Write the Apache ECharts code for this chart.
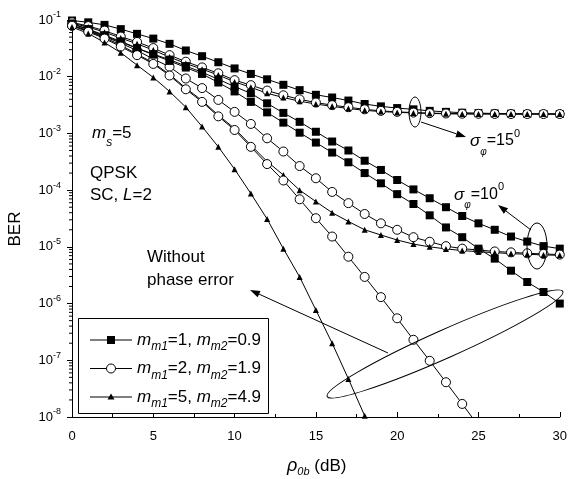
<!DOCTYPE html>
<html><head><meta charset="utf-8">
<script src="https://cdn.jsdelivr.net/npm/echarts@6/dist/echarts.min.js"></script>
<style>html,body{margin:0;padding:0;background:#fff}#c{width:570px;height:479px}</style>
</head><body><div id="c"></div>
<script>
// ---------- data ----------
const snr = [0,1,2,3,4,5,6,7,8,9,10,11,12,13,14,15,16,17,18,19,20,21,22,23,24,25,26,27,28,29,30];
const yTickExps = [-8,-7,-6,-5,-4,-3,-2,-1];
const xTicks = [0,5,10,15,20,25,30];

// sigma_phi = 15 deg
const sq15 = [0.098,0.091,0.082,0.069,0.057,0.047,0.038,0.029,0.023,0.018,0.014,0.0112,0.0090,0.0072,0.0058,0.0048,0.0043,0.0038,0.0033,0.0030,0.0028,0.00266,0.0025,0.0024,0.00232,0.00228,0.00225,0.00223,0.00221,0.0022,0.0022];
const ci15 = [0.091,0.078,0.065,0.051,0.041,0.032,0.024,0.0184,0.0146,0.0115,0.0087,0.0071,0.0057,0.0047,0.0040,0.0035,0.00315,0.0029,0.00266,0.0025,0.0024,0.00233,0.00228,0.00225,0.00223,0.00222,0.00221,0.0022,0.0022,0.0022,0.0022];
const tr15 = [0.088,0.075,0.061,0.048,0.038,0.0295,0.0222,0.0171,0.0136,0.0107,0.0081,0.0065,0.0051,0.0043,0.0037,0.0033,0.0030,0.00275,0.00255,0.00243,0.00235,0.0023,0.00225,0.00222,0.0022,0.0022,0.0022,0.0022,0.0022,0.0022,0.0022];
// sigma_phi = 10 deg
const sq10 = [0.087,0.069,0.054,0.042,0.032,0.025,0.020,0.0154,0.012,0.0090,0.0067,0.0051,0.0034,0.0023,0.0016,0.00107,0.00072,0.00050,0.00033,0.000227,0.000151,0.000103,0.000072,0.000050,0.000035,0.000026,0.000020,0.0000152,0.0000124,0.0000103,0.0000093];
const ci10 = [0.080,0.065,0.051,0.039,0.029,0.0205,0.015,0.0093,0.0063,0.0039,0.0024,0.00147,0.00082,0.00048,0.000266,0.000162,0.000093,0.000059,0.000038,0.000026,0.000020,0.0000148,0.0000123,0.0000103,0.0000093,0.0000088,0.0000083,0.000008,0.0000077,0.0000075,0.0000073];
const tr10 = [0.081,0.064,0.049,0.036,0.025,0.0176,0.011,0.0063,0.0038,0.0021,0.00122,0.00062,0.00032,0.000185,0.0001,0.000063,0.00004,0.000028,0.00002,0.0000162,0.0000132,0.0000112,0.00001,0.0000092,0.0000086,0.0000082,0.0000079,0.0000076,0.0000074,0.0000072,0.0000071];
// without phase error
const sqNo = [0.085,0.068,0.052,0.041,0.0316,0.0245,0.019,0.0145,0.0112,0.0079,0.0055,0.0036,0.00235,0.00155,0.00103,0.00069,0.00046,0.00031,0.00020,0.000132,0.000085,0.000057,0.000036,0.000022,0.0000148,0.0000093,0.0000062,0.0000038,0.0000024,0.0000016,0.0000010];
const ciNo = [0.079,0.062,0.047,0.034,0.024,0.0168,0.0105,0.0060,0.0036,0.0020,0.00115,0.00058,0.000288,0.000148,0.000069,0.000032,0.0000152,0.0000067,0.00000295,0.0000013,5.5e-7,2.3e-7,9.8e-8,4.1e-8,1.7e-8,7e-9];
const trNo = [0.075,0.058,0.040,0.0265,0.016,0.0097,0.0055,0.0029,0.00132,0.00058,0.000234,0.000087,0.000031,0.0000093,0.00000295,7.7e-7,2.0e-7,4.7e-8,1.05e-8];

const FONT = '"Liberation Sans", Arial, Helvetica, sans-serif';
const pairs = arr => arr.map((v,i)=>[snr[i], v]);

function mkSeries(name, vals, kind){
  const base = {
    type:'line', name, data: pairs(vals), animation:false, silent:true,
    lineStyle:{color:'#000', width:1}, emphasis:{disabled:true}, clip:true, showAllSymbol:true
  };
  if(kind==='sq') Object.assign(base,{symbol:'rect', symbolSize:8, itemStyle:{color:'#000'}});
  if(kind==='ci') Object.assign(base,{symbol:'circle', symbolSize:9, itemStyle:{color:'#fff', borderColor:'#000', borderWidth:1}});
  if(kind==='tr') Object.assign(base,{symbol:'triangle', symbolSize:6, itemStyle:{color:'#000'}});
  return base;
}

// minor log ticks on y axis
const minorVals = [];
yTickExps.slice(0,-1).forEach(e=>{ for(let k=2;k<=9;k++) minorVals.push([0, k*Math.pow(10,e)]); });

function arrow(x1,y1,x2,y2){
  const dx=x2-x1, dy=y2-y1, L=Math.hypot(dx,dy), ux=dx/L, uy=dy/L;
  const hl=10, hw=3.5, bx=x2-ux*hl, by=y2-uy*hl;
  return [
    {type:'line', shape:{x1,y1,x2:bx,y2:by}, style:{stroke:'#000', lineWidth:1}, z:100},
    {type:'polygon', shape:{points:[[x2,y2],[bx-uy*hw, by+ux*hw],[bx+uy*hw, by-ux*hw]]}, style:{fill:'#000'}, z:100}
  ];
}
const R = (fs, extra) => Object.assign({fontSize:fs, fontFamily:FONT, fill:'#000', verticalAlign:'middle'}, extra||{});
function txt(x,y,text,rich,extra){
  return Object.assign({type:'text', x, y, z:100, style:{text, rich, fontFamily:FONT, fontSize:17, fill:'#000', verticalAlign:'middle', align:'left'}}, extra||{});
}
const richMain = {
  n: R(17), i: R(17,{fontStyle:'italic'}),
  sub: R(12,{fontStyle:'italic', padding:[14,0,0,0]}),
  sup: R(11,{padding:[0,0,14,0]})
};
const legendNames = ['{i|m}{sub|m1}{n|=1, }{i|m}{sub|m2}{n|=0.9}','{i|m}{sub|m1}{n|=2, }{i|m}{sub|m2}{n|=1.9}','{i|m}{sub|m1}{n|=5, }{i|m}{sub|m2}{n|=4.9}'];
const legendY = [340, 368.5, 397];

const graphic = [
  // legend box
  {type:'rect', shape:{x:78.5, y:318.5, width:190, height:95}, style:{fill:'#fff', stroke:'#000', lineWidth:1}, z:90},
  ...legendY.map(y=>({type:'line', shape:{x1:90,y1:y,x2:132,y2:y}, style:{stroke:'#000', lineWidth:1}, z:95})),
  {type:'rect', shape:{x:107, y:legendY[0]-4, width:8, height:8}, style:{fill:'#000'}, z:96},
  {type:'circle', shape:{cx:111, cy:legendY[1], r:4.5}, style:{fill:'#fff', stroke:'#000', lineWidth:1}, z:96},
  {type:'polygon', shape:{points:[[111,legendY[2]-3.5],[114.5,legendY[2]+2.5],[107.5,legendY[2]+2.5]]}, style:{fill:'#000'}, z:96},
  ...legendNames.map((t,i)=>txt(137, legendY[i], t, richMain)),
  // annotations
  txt(92, 133, '{i|m}{sub|s}{n|=5}', {n:R(17), i:R(17,{fontStyle:'italic'}), sub:R(12,{fontStyle:'italic', padding:[20,0,0,0]})}),
  txt(90, 173, 'QPSK', richMain),
  txt(90, 195, '{n|SC, }{i|L}{n|=2}', richMain),
  txt(147, 257, 'Without', richMain),
  txt(147, 280, 'phase error', richMain),
  txt(470, 141, '{i|σ}{sub|φ}{n|=15}{sup|0}', {n:R(16), i:R(17,{fontStyle:'italic'}), sub:R(10,{fontStyle:'italic', padding:[22,0,0,0]}), sup:R(11,{padding:[0,0,14,0]})}),
  txt(454, 195, '{i|σ}{sub|φ}{n|=10}{sup|0}', {n:R(16), i:R(17,{fontStyle:'italic'}), sub:R(10,{fontStyle:'italic', padding:[20,0,0,0]}), sup:R(11,{padding:[0,0,16,0]})}),
  // axis names
  txt(15, 229, 'BER', null, {rotation:Math.PI/2, style:{text:'BER', fontFamily:FONT, fontSize:17, fill:'#000', align:'center', verticalAlign:'middle'}}),
  txt(287, 466, '{i|ρ}{sub|0b}{n| (dB)}', {n:R(17), i:R(18,{fontStyle:'italic'}), sub:R(11,{fontStyle:'italic', padding:[12,0,0,0]})}),
  // ellipses
  {type:'ellipse', x:415, y:112, shape:{cx:0, cy:0, rx:6, ry:15}, style:{fill:'none', stroke:'#000', lineWidth:1}, z:100},
  {type:'ellipse', x:537, y:246, shape:{cx:0, cy:0, rx:10, ry:23}, style:{fill:'none', stroke:'#000', lineWidth:1}, z:100},
  {type:'ellipse', x:445, y:344, rotation:24*Math.PI/180, shape:{cx:0, cy:0, rx:129, ry:14}, style:{fill:'none', stroke:'#000', lineWidth:1}, z:100},
  ...arrow(421,122,466,137),
  ...arrow(531,230,498,205),
  ...arrow(388,353,250,290)
];

const chart = echarts.init(document.getElementById('c'), null, {renderer:'canvas'});
chart.setOption({
  animation:false,
  backgroundColor:'#fff',
  grid:{left:72, right:6, top:20, bottom:62},
  xAxis:{type:'value', min:0, max:30, interval:5,
    axisLine:{lineStyle:{color:'#000', width:1}},
    axisTick:{inside:true, length:5, lineStyle:{color:'#000'}},
    minorTick:{show:true, splitNumber:2, length:3, lineStyle:{color:'#000'}},
    splitLine:{show:false},
    axisLabel:{color:'#000', fontSize:13, fontFamily:FONT, margin:13, formatter:v=> xTicks.includes(v)? String(v):''}
  },
  yAxis:{type:'log', logBase:10, min:1e-8, max:1e-1, splitNumber:7,
    axisLine:{show:true, lineStyle:{color:'#000', width:1}},
    axisTick:{show:true, inside:false, length:5, lineStyle:{color:'#000'}},
    splitLine:{show:false},
    axisLabel:{color:'#000', margin:11, fontFamily:FONT,
      formatter:v=>{const e=Math.round(Math.log10(v)); return '{b|10}{s|'+e+'}';},
      rich:{b:{fontSize:13, fontFamily:FONT, color:'#000', verticalAlign:'middle'}, s:{fontSize:9, fontFamily:FONT, color:'#000', verticalAlign:'middle', padding:[0,0,10,0]}}
    }
  },
  series:[
    {type:'custom', silent:true, data:minorVals, clip:false, z:3,
     renderItem:(params, api)=>{const p=api.coord([0, api.value(1)]); return {type:'line', shape:{x1:p[0]-3,y1:p[1],x2:p[0],y2:p[1]}, style:{stroke:'#000', lineWidth:1}};}},
    mkSeries('s15', sq15, 'sq'),
    mkSeries('c15', ci15, 'ci'),
    mkSeries('t15', tr15, 'tr'),
    mkSeries('s10', sq10, 'sq'),
    mkSeries('c10', ci10, 'ci'),
    mkSeries('t10', tr10, 'tr'),
    mkSeries('sno', sqNo, 'sq'),
    mkSeries('cno', ciNo, 'ci'),
    mkSeries('tno', trNo, 'tr')
  ],
  graphic
});
</script></body></html>
